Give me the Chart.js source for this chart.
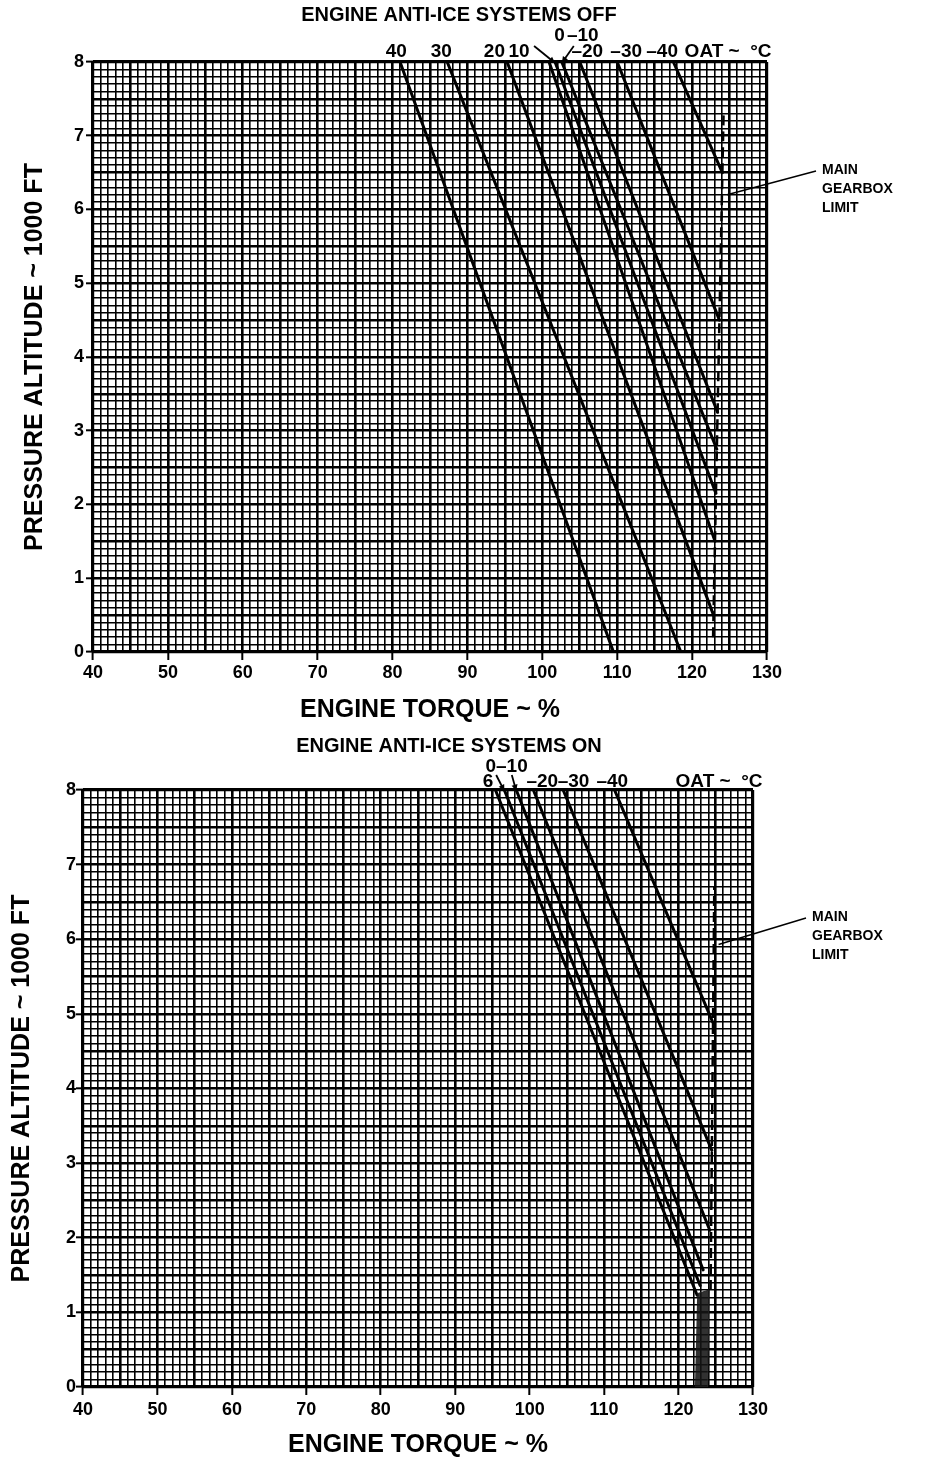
<!DOCTYPE html>
<html><head><meta charset="utf-8">
<script src="https://cdn.jsdelivr.net/npm/chart.js@4.4.1/dist/chart.umd.min.js"></script>
<style>
html,body{margin:0;padding:0;background:#fff;}
.wrap{position:absolute;left:0;width:926px;height:730px;}
canvas{display:block;}
</style></head><body>
<div class="wrap" style="top:0"><canvas id="c1" width="926" height="730"></canvas></div>
<div class="wrap" style="top:730px"><canvas id="c2" width="926" height="730"></canvas></div>
<script>
// ---------- DATA ----------
const torqueTicks = [40, 50, 60, 70, 80, 90, 100, 110, 120, 130];
const altitudeTicks = [0, 1, 2, 3, 4, 5, 6, 7, 8];

// Engine anti-ice OFF
const offOat         = [40, 30, 20, 10, 0, -10, -20, -30, -40];
const offTorqueAt8k  = [81.0, 87.3, 95.3, 100.9, 101.7, 102.6, 105.0, 110.0, 117.5];
const offEndTorque   = [109.5, 118.5, 122.86, 123.06, 123.18, 123.30, 123.40, 123.65, 124.04];
const offEndAlt      = [0, 0, 0.5, 1.5, 2.15, 2.75, 3.25, 4.5, 6.5];
const offLimitTorque = [122.8, 124.2];
const offLimitAlt    = [0.2, 7.3];

// Engine anti-ice ON
const onOat          = [6, 0, -10, -20, -30, -40];
const onTorqueAt8k   = [95.4, 96.6, 98.2, 100.5, 104.5, 111.4];
const onEndTorque    = [122.5, 122.9, 123.3, 124.2, 124.47, 124.63];
const onEndAlt       = [1.23, 1.36, 1.57, 2.1, 3.17, 4.88];
const onLimitTorque  = [124.3, 124.8];
const onLimitAlt     = [1.3, 6.7];
const onBandTorque   = [122.2, 123.9, 124.1, 122.5];
const onBandAlt      = [0, 0, 1.3, 1.25];

// ---------- RENDERING ----------
const FONT = "'Liberation Sans', Arial, Helvetica, sans-serif";
Chart.defaults.font.family = FONT;
Chart.defaults.color = '#000';

function lineSets(oat, top, endT, endA) {
  return oat.map((o, i) => ({
    label: o + ' °C',
    data: [{x: top[i], y: 8}, {x: endT[i], y: endA[i]}],
    showLine: true, pointRadius: 0, borderColor: '#000', borderWidth: 3,
    borderCapStyle: 'round'
  }));
}
function limitSet(t, a) {
  return {
    label: 'MAIN GEARBOX LIMIT',
    data: t.map((v, i) => ({x: v, y: a[i]})),
    showLine: true, pointRadius: 0, borderColor: '#000', borderWidth: 2.5,
    borderDash: [10, 6]
  };
}

function arrow(ctx, x1, y1, x2, y2) {
  ctx.beginPath(); ctx.moveTo(x1, y1); ctx.lineTo(x2, y2); ctx.stroke();
  const ang = Math.atan2(y2 - y1, x2 - x1), h = 7;
  ctx.beginPath();
  ctx.moveTo(x2, y2);
  ctx.lineTo(x2 - h * Math.cos(ang - 0.45), y2 - h * Math.sin(ang - 0.45));
  ctx.lineTo(x2 - h * Math.cos(ang + 0.45), y2 - h * Math.sin(ang + 0.45));
  ctx.closePath(); ctx.fill();
}

const annotPlugin = {
  id: 'annot',
  afterDraw(chart, args, o) {
    const {ctx, chartArea: ca, scales: {x, y}} = chart;
    ctx.save();
    ctx.fillStyle = '#000'; ctx.strokeStyle = '#000';
    ctx.textBaseline = 'middle';
    // chart heading
    ctx.font = 'bold 20px ' + FONT;
    ctx.textAlign = 'center';
    ctx.fillText(o.title, (ca.left + ca.right) / 2 + o.titleDx, o.titleY);
    // OAT labels
    ctx.font = 'bold 19px ' + FONT;
    o.labels.forEach(l => {
      ctx.textAlign = l.align || 'center';
      ctx.fillText(l.text, x.getPixelForValue(l.t), ca.top - o.rows[l.row]);
    });
    ctx.lineWidth = 1.8;
    o.arrows.forEach(a => {
      const p = chart.data.datasets[a.line].data[0];
      arrow(ctx, x.getPixelForValue(a.fromT), ca.top - a.fromDy,
            x.getPixelForValue(p.x), y.getPixelForValue(p.y) + 1);
    });
    // gearbox note
    const g = o.gear;
    ctx.font = 'bold 14px ' + FONT;
    ctx.textAlign = 'left';
    ['MAIN', 'GEARBOX', 'LIMIT'].forEach((s, i) => ctx.fillText(s, ca.right + g.dx, ca.top + g.dy + i * 19));
    ctx.lineWidth = 1.4;
    ctx.beginPath();
    ctx.moveTo(ca.right + g.dx - 6, ca.top + g.dy + 1);
    ctx.lineTo(x.getPixelForValue(g.t) + 5, y.getPixelForValue(g.a));
    ctx.stroke();
    ctx.restore();
  }
};

function makeChart(id, datasets, L) {
  const xGridW = c => { const v = Math.round(c.tick.value); return (v === 40 || v === 130) ? 3.2 : (v % 5 === 0 ? 2.6 : 1.6); };
  const yGridW = c => { const v = Math.round(c.tick.value * 10); return (v === 0 || v === 80) ? 3.2 : (v % 5 === 0 ? 2.6 : 1.6); };
  return new Chart(document.getElementById(id), {
    type: 'scatter',
    data: {datasets},
    plugins: [annotPlugin],
    options: {
      responsive: false, animation: false, devicePixelRatio: 1,
      layout: {padding: {left: 0, right: L.padRight, top: L.padTop, bottom: 0}},
      plugins: {
        legend: {display: false}, tooltip: {enabled: false}, title: {display: false},
        annot: L.annot
      },
      scales: {
        x: {
          type: 'linear', min: 40, max: 130,
          afterFit: s => { s.height = L.xHeight; },
          ticks: {stepSize: 1, maxTicksLimit: 1000, autoSkip: false, maxRotation: 0,
                  padding: L.xTickPad, font: {size: 18, weight: 'bold'}, color: '#000',
                  callback: v => torqueTicks.includes(Math.round(v)) && Math.abs(v - Math.round(v)) < 1e-6 ? String(Math.round(v)) : ''},
          grid: {color: '#000', lineWidth: xGridW, drawTicks: true, tickLength: 8, tickWidth: 2,
                 tickColor: c => torqueTicks.includes(Math.round(c.tick.value)) ? '#000' : 'rgba(0,0,0,0)'},
          border: {display: false},
          title: {display: true, text: 'ENGINE TORQUE ~ %', font: {size: 25, weight: 'bold'}, color: '#000',
                  padding: {top: 0, bottom: L.xTitlePad}}
        },
        y: {
          type: 'linear', min: 0, max: 8,
          afterFit: s => { s.width = L.yWidth; },
          ticks: {stepSize: 0.1, maxTicksLimit: 1000, autoSkip: false,
                  padding: L.yTickPad, font: {size: 18, weight: 'bold'}, color: '#000',
                  callback: v => { const r = Math.round(v * 10); return r % 10 === 0 && altitudeTicks.includes(r / 10) ? String(r / 10) : ''; }},
          grid: {color: '#000', lineWidth: yGridW, drawTicks: true, tickLength: 7, tickWidth: 2,
                 tickColor: c => Math.round(c.tick.value * 10) % 10 === 0 ? '#000' : 'rgba(0,0,0,0)'},
          border: {display: false},
          title: {display: true, text: 'PRESSURE ALTITUDE ~ 1000 FT', font: {size: 25, weight: 'bold'}, color: '#000',
                  padding: {top: L.yTitlePad, bottom: 0}}
        }
      }
    }
  });
}

// OFF chart
const offSets = lineSets(offOat, offTorqueAt8k, offEndTorque, offEndAlt);
offSets.push(limitSet(offLimitTorque, offLimitAlt));
makeChart('c1', offSets, {
  padTop: 62, padRight: 159, xHeight: 78, yWidth: 93, xTickPad: 2, yTickPad: 2, xTitlePad: 5, yTitlePad: 20,
  annot: {
    title: 'ENGINE ANTI-ICE SYSTEMS OFF', titleDx: 29, titleY: 15,
    rows: [10, 26],
    labels: [
      {text: '40', t: 80.5, row: 0}, {text: '30', t: 86.5, row: 0}, {text: '20', t: 93.6, row: 0},
      {text: '10', t: 96.9, row: 0}, {text: '0', t: 102.3, row: 1}, {text: '–10', t: 105.4, row: 1},
      {text: '–20', t: 106.0, row: 0}, {text: '–30', t: 111.2, row: 0}, {text: '–40', t: 116.0, row: 0},
      {text: 'OAT ~  °C', t: 119.0, row: 0, align: 'left'}
    ],
    arrows: [{fromT: 98.9, fromDy: 16, line: 4}, {fromT: 104.2, fromDy: 16, line: 5}],
    gear: {dx: 55, dy: 108, t: 124.0, a: 6.2}
  }
});

// ON chart
const onSets = [{
  label: 'band', data: onBandTorque.map((v, i) => ({x: v, y: onBandAlt[i]})),
  showLine: true, pointRadius: 0, borderColor: '#222', borderWidth: 1,
  backgroundColor: 'rgba(20,20,20,0.88)', fill: 'shape'
}];
onSets.push(...lineSets(onOat, onTorqueAt8k, onEndTorque, onEndAlt));
onSets.push(limitSet(onLimitTorque, onLimitAlt));
makeChart('c2', onSets, {
  padTop: 60, padRight: 173, xHeight: 73, yWidth: 83, xTickPad: 4, yTickPad: 0, xTitlePad: 0, yTitlePad: 7,
  annot: {
    title: 'ENGINE ANTI-ICE SYSTEMS ON', titleDx: 31, titleY: 16,
    rows: [8, 23],
    labels: [
      {text: '6', t: 94.4, row: 0}, {text: '0–10', t: 96.9, row: 1},
      {text: '–20', t: 101.7, row: 0}, {text: '–30', t: 105.9, row: 0}, {text: '–40', t: 111.1, row: 0},
      {text: 'OAT ~  °C', t: 119.6, row: 0, align: 'left'}
    ],
    arrows: [{fromT: 95.5, fromDy: 15, line: 2}, {fromT: 97.6, fromDy: 15, line: 3}],
    gear: {dx: 59, dy: 127, t: 124.7, a: 5.93}
  }
});
</script>
</body></html>
